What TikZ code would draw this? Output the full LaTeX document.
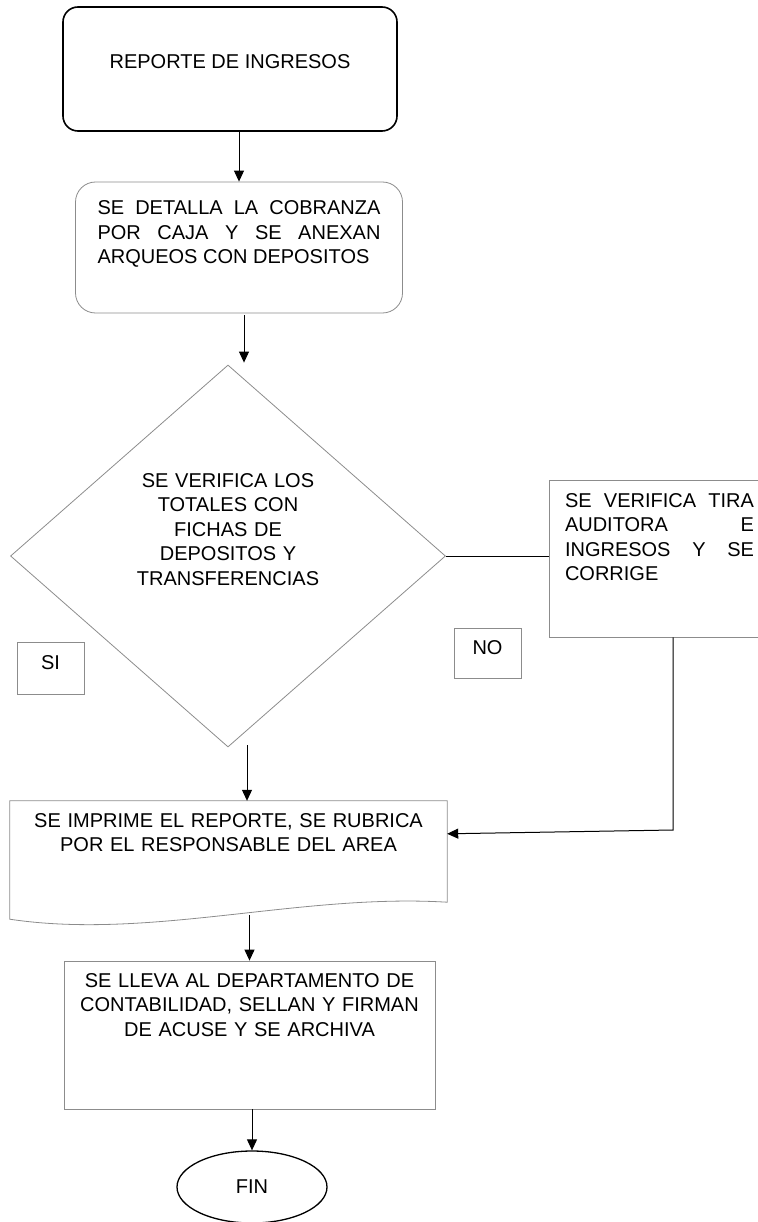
\documentclass[tikz,border=0pt]{standalone}
\usepackage{fontspec}
\setmainfont{Liberation Sans}
\usetikzlibrary{shapes.geometric,arrows.meta}
\hyphenpenalty=10000
\exhyphenpenalty=10000

\begin{document}
\begin{tikzpicture}[x=1pt, y=-1pt,
    font=\fontsize{20}{24.5}\selectfont,
    >={Triangle[length=11pt,width=10pt]},
    borde/.style={draw=black!45, line width=0.8pt},
    caja/.style={borde, rectangle, inner ysep=0pt},
    flecha/.style={->, line width=1pt}]
  \useasboundingbox (0,0) rectangle (757,1222);

  % pasos
  \node[draw, line width=1.6pt, rounded corners=15pt, minimum width=334pt,
        inner sep=0pt, text height=62pt, text depth=62pt] (inicio) at (230,69) {REPORTE DE INGRESOS};
  \node[caja, rounded corners=20pt, align=justify, text width=283pt, inner xsep=22pt,
        text height=33pt, text depth=98pt] (detalle) at (239,247.5)
        {SE DETALLA LA COBRANZA\linebreak POR CAJA Y SE ANEXAN\linebreak ARQUEOS CON DEPOSITOS};
  \node[borde, diamond, minimum width=435pt, minimum height=382pt, inner sep=0pt,
        align=center, text width=190pt, text height=20pt, text depth=158pt] (verifica) at (228,556)
        {SE VERIFICA LOS\\TOTALES CON\\FICHAS DE\\DEPOSITOS Y\\TRANSFERENCIAS};
  \node[caja, align=justify, text width=189pt, inner xsep=16pt,
        text height=27pt, text depth=130pt] (corrige) at (659.5,558.5)
        {SE VERIFICA TIRA\linebreak AUDITORA E\linebreak INGRESOS Y SE\linebreak CORRIGE};
  \node[caja, minimum width=67pt, text height=27pt, text depth=25pt] (si) at (50.5,668) {SI};
  \node[caja, minimum width=67pt, text height=26pt, text depth=24pt] (no) at (487.5,653) {NO};
  \node[rectangle, inner ysep=0pt, align=center, text width=400pt, inner xsep=18.5pt,
        text height=26pt, text depth=75pt] (imprime) at (228.5,851.5)
        {SE IMPRIME EL REPORTE, SE RUBRICA\\POR EL RESPONSABLE DEL AREA};
  \draw[borde] (imprime.north west) -- (imprime.north east) -- (imprime.south east)
    .. controls +(-147,-9) and +(140,21) .. ([yshift=-17pt]imprime.south west) -- cycle;
  \node[caja, align=center, text width=345pt, inner xsep=13pt,
        text height=26pt, text depth=122pt] (llevar) at (249.5,1035)
        {SE LLEVA AL DEPARTAMENTO DE\\CONTABILIDAD, SELLAN Y FIRMAN\\DE ACUSE Y SE ARCHIVA};
  \node[draw, ellipse, line width=1.3pt, minimum width=150pt, minimum height=72pt,
        inner sep=0pt] (fin) at (252,1187) {FIN};

  % conexiones
  \coordinate (codo) at (673,830);
  \coordinate (ola) at ([yshift=-13pt]imprime.south);
  \draw[flecha] (inicio.south -| detalle.north) -- (detalle.north);
  \draw[flecha] ([xshift=5pt,yshift=-2pt]detalle.south) -- ([xshift=16pt,yshift=2pt]verifica.north);
  \draw[line width=1pt] (verifica.east) -- (verifica.east -| corrige.west);
  \draw[flecha] (corrige.south -| codo) -- (codo) -- ([yshift=-33pt]imprime.north east);
  \draw[flecha] ([xshift=19pt,yshift=2pt]verifica.south) -- ([xshift=18.5pt]imprime.north);
  \draw[flecha] (ola -| llevar.north) -- (llevar.north);
  \draw[flecha] (llevar.south -| fin.north) -- (fin.north);
\end{tikzpicture}
\end{document}
